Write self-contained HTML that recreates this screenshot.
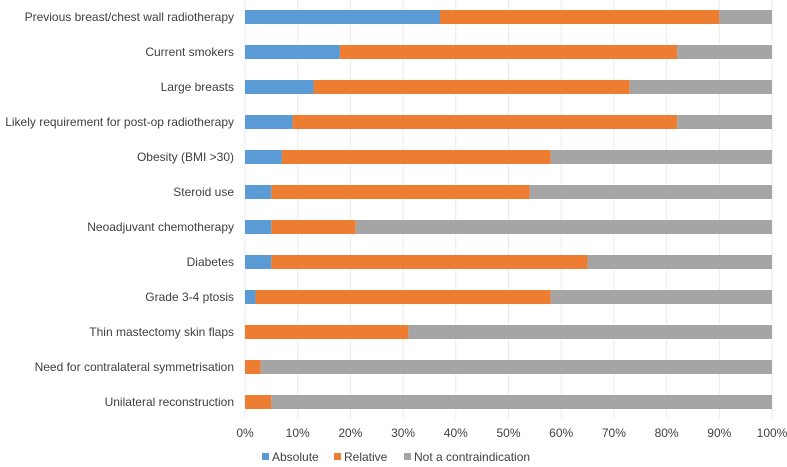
<!DOCTYPE html>
<html><head><meta charset="utf-8"><style>
body{margin:0;background:#fff;font-family:"Liberation Sans",sans-serif;}
svg text{font-family:"Liberation Sans",sans-serif;font-size:12px;fill:#404040;}
</style></head><body>
<svg id="chart" width="787" height="462"></svg>
<script>
const categories=["Previous breast/chest wall radiotherapy","Current smokers","Large breasts","Likely requirement for post-op radiotherapy","Obesity (BMI >30)","Steroid use","Neoadjuvant chemotherapy","Diabetes","Grade 3-4 ptosis","Thin mastectomy skin flaps","Need for contralateral symmetrisation","Unilateral reconstruction"];
const absolute=[37,18,13,9,7,5,5,5,2,0,0,0];
const relative=[53,64,60,73,51,49,16,60,56,31,3,5];
const notContra=[10,18,27,18,42,46,79,35,42,69,97,95];
const ticks=[0,10,20,30,40,50,60,70,80,90,100];
const seriesNames=["Absolute","Relative","Not a contraindication"];
const colors=["#5b9bd5","#ed7d31","#a5a5a5"];
const svg=document.getElementById('chart');
const NS="http://www.w3.org/2000/svg";
const x0=245,x1=772,rowH=35,barH=14;
const xs=v=>x0+(x1-x0)*v/100;
const yc=i=>17+i*rowH;
function mk(t,a){const e=document.createElementNS(NS,t);for(const k in a)e.setAttribute(k,a[k]);svg.appendChild(e);return e;}
ticks.forEach(t=>{
 const l=mk('line',{x1:xs(t),x2:xs(t),y1:0,y2:419,stroke:'#ebebeb','stroke-width':1});
 
 
 const tx=mk('text',{x:xs(t),y:437,'text-anchor':'middle'});tx.textContent=t+'%';
 
 
});
const series=[absolute,relative,notContra];
categories.forEach((c,i)=>{
 const lab=mk('text',{x:234,y:yc(i)+4,'text-anchor':'end'});lab.textContent=c;
 
 
 let acc=0;
 series.forEach((s,k)=>{
  const v=s[i];
  if(v>0){
   const r=mk('rect',{x:xs(acc),y:yc(i)-barH/2,width:xs(acc+v)-xs(acc),height:barH,fill:colors[k]});
   
   
  }
  acc+=v;
 });
});
const lx=[262,334,404];
seriesNames.forEach((n,k)=>{
 const r=mk('rect',{x:lx[k],y:453,width:7,height:7,fill:colors[k]});
 
 
 const t=mk('text',{x:lx[k]+10,y:461});t.textContent=n;
 
 
});
</script>
</body></html>
